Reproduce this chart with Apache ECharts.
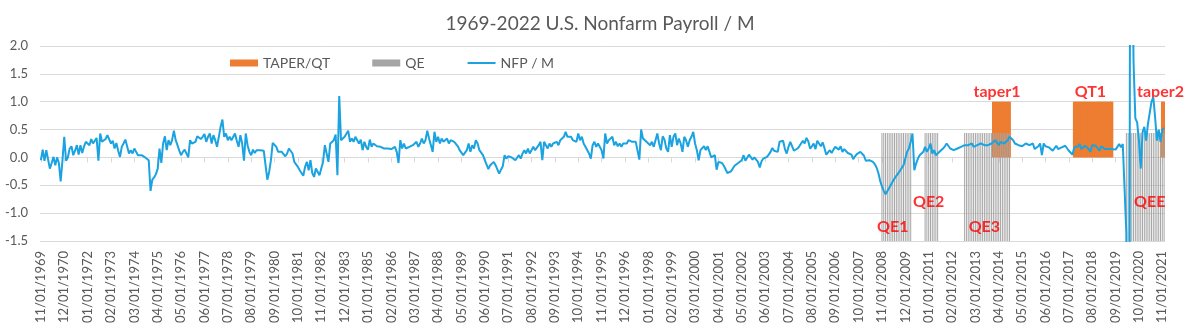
<!DOCTYPE html>
<html>
<head>
<meta charset="utf-8">
<script src="https://cdn.jsdelivr.net/npm/echarts@6/dist/echarts.min.js"></script>
<style>
  html, body { margin: 0; padding: 0; background: #ffffff; }
  #chart { width: 1200px; height: 331px; }
</style>
</head>
<body>
<div id="chart"></div>
<script>
// Monthly change in U.S. nonfarm payrolls, millions of jobs, Nov 1969 .. Dec 2021
const nfp = [
  -0.05, 0.14,                                                              // 1969 Nov-Dec
  -0.06, 0.13, 0.14, -0.2, -0.1, 0.01, -0.14, 0.0, -0.1, -0.43, -0.05, 0.37,  // 1970
  -0.06, 0.0, 0.16, 0.2, 0.04, 0.12, 0.22, 0.05, 0.22, 0.08, 0.2, 0.28,       // 1971
  0.3, 0.22, 0.33, 0.25, 0.28, 0.35, -0.06, 0.43, 0.28, 0.3, 0.33, 0.4,       // 1972
  0.4, 0.25, 0.3, 0.16, 0.26, 0.12, 0.01, 0.19, 0.25, 0.32, 0.3, 0.07,        // 1973
  0.13, 0.07, 0.16, 0.1, 0.04, 0.07, 0.04, 0.02, 0.0, 0.0, -0.05, -0.6,       // 1974
  -0.4, -0.36, -0.3, -0.2, 0.16, -0.1, 0.25, 0.38, 0.13, 0.31, 0.22, 0.31,    // 1975
  0.48, 0.31, 0.22, 0.12, 0.04, 0.1, 0.14, 0.15, 0.0, 0.31, 0.25, 0.28,       // 1976
  0.28, 0.38, 0.4, 0.33, 0.37, 0.42, 0.28, 0.37, 0.43, 0.25, 0.4, 0.31,       // 1977
  0.19, 0.37, 0.55, 0.68, 0.37, 0.43, 0.31, 0.37, 0.31, 0.28, 0.43, 0.3,      // 1978
  0.19, 0.4, 0.25, -0.06, 0.43, 0.22, 0.1, 0.04, 0.14, 0.08, 0.13, 0.1,       // 1979
  0.13, 0.1, 0.12, 0.1, -0.4, -0.26, -0.05, 0.26, 0.25, 0.19, 0.1, 0.07,      // 1980
  0.1, 0.07, 0.02, 0.07, 0.16, 0.19, 0.07, -0.08, -0.08, -0.17, -0.23, -0.28, // 1981
  -0.33, -0.17, -0.08, -0.23, -0.05, -0.28, -0.35, -0.2, -0.17, -0.32, -0.2, -0.08, // 1982
  0.22, 0.07, -0.08, 0.25, 0.28, 0.31, 0.41, -0.32, 1.1, 0.31, 0.34, 0.37,    // 1983
  0.4, 0.48, 0.28, 0.34, 0.28, 0.37, 0.31, 0.25, 0.32, 0.13, 0.28, 0.19,      // 1984
  0.14, 0.32, 0.19, 0.25, 0.22, 0.2, 0.2, 0.19, 0.18, 0.16, 0.15, 0.16,       // 1985
  0.14, 0.15, 0.14, 0.19, 0.1, -0.1, 0.31, 0.16, 0.25, 0.16, 0.16, 0.19,      // 1986
  0.2, 0.22, 0.25, 0.28, 0.19, 0.25, 0.34, 0.25, 0.31, 0.48, 0.34, 0.37,      // 1987
  0.1, 0.46, 0.28, 0.37, 0.25, 0.34, 0.28, 0.31, 0.34, 0.25, 0.31, 0.34,      // 1988
  0.28, 0.25, 0.2, 0.13, 0.1, 0.04, 0.01, 0.13, 0.25, 0.1, 0.22, 0.16,        // 1989
  0.31, 0.25, 0.13, 0.16, 0.04, -0.05, -0.13, -0.21, -0.14, -0.11, -0.08, -0.14, // 1990
  -0.11, -0.29, -0.22, -0.16, 0.04, -0.02, 0.02, 0.04, 0.0, 0.01, -0.05, -0.03,  // 1991
  0.04, -0.02, 0.07, 0.13, 0.07, 0.16, 0.07, 0.13, 0.19, 0.13, 0.13, 0.22,    // 1992
  0.28, -0.05, 0.28, 0.22, 0.16, 0.25, 0.19, 0.25, 0.22, 0.28, 0.22, 0.31,    // 1993
  0.31, 0.37, 0.46, 0.37, 0.34, 0.37, 0.31, 0.34, 0.28, 0.43, 0.31, 0.37,     // 1994
  0.25, 0.19, 0.16, 0.07, -0.02, 0.22, 0.28, 0.19, 0.25, 0.28, 0.13, -0.02,   // 1995
  0.43, 0.25, 0.31, 0.28, 0.37, 0.22, 0.28, 0.2, 0.25, 0.19, 0.25, 0.28,      // 1996
  0.25, 0.31, 0.28, 0.28, 0.31, 0.28, 0.27, -0.04, 0.5, 0.34, 0.31, 0.28,     // 1997
  0.25, 0.22, 0.28, 0.19, 0.31, 0.43, 0.25, 0.13, 0.38, 0.32, 0.16, 0.1,      // 1998
  0.4, 0.19, 0.37, 0.43, 0.22, 0.34, 0.25, 0.1, 0.37, 0.31, 0.19, 0.31,       // 1999
  0.37, 0.46, 0.25, 0.13, -0.05, 0.13, 0.1, 0.2, 0.13, 0.2, 0.19, 0.0,        // 2000
  0.02, 0.04, -0.22, -0.08, -0.1, -0.1, -0.15, -0.17, -0.28, -0.31, -0.25, -0.2, // 2001
  -0.15, -0.12, -0.1, -0.07, -0.05, 0.04, -0.06, -0.07, 0.05, 0.08, -0.04, 0.0,  // 2002
  0.01, -0.08, -0.18, -0.07, -0.02, -0.01, 0.01, 0.05, 0.1, 0.17, 0.12, 0.1,  // 2003
  0.1, 0.28, 0.29, 0.3, 0.15, 0.07, 0.19, 0.28, 0.3, 0.12, 0.14, 0.16,        // 2004
  0.2, 0.18, 0.3, 0.25, 0.35, 0.29, 0.16, 0.2, 0.25, 0.15, 0.3, 0.25,         // 2005
  0.2, 0.27, 0.17, 0.05, 0.08, 0.13, 0.08, 0.14, 0.19, 0.21, 0.14, 0.2,       // 2006
  0.1, 0.15, 0.12, 0.08, 0.05, 0.05, -0.03, 0.02, 0.06, 0.08, 0.1, 0.1,       // 2007
  0.03, -0.06, -0.07, -0.05, -0.06, -0.08, -0.12, -0.18, -0.28, -0.42, -0.52, -0.6, // 2008
  -0.66, -0.69, -0.55, -0.49, -0.43, -0.4, -0.33, -0.35, -0.24, -0.23, -0.14, -0.02, // 2009
  0.1, 0.16, 0.28, 0.43, -0.23, -0.11, -0.02, 0.04, 0.07, 0.1, 0.19, 0.1,     // 2010
  0.16, 0.25, 0.07, 0.13, 0.04, 0.07, 0.1, 0.13, 0.16, 0.2, 0.25, 0.28,       // 2011
  0.16, 0.19, 0.13, 0.16, 0.16, 0.19, 0.19, 0.19, 0.22, 0.19, 0.22, 0.22,     // 2012
  0.25, 0.19, 0.22, 0.22, 0.25, 0.25, 0.22, 0.22, 0.25, 0.22, 0.22, 0.25,     // 2013
  0.28, 0.31, 0.31, 0.22, 0.28, 0.28, 0.25, 0.25, 0.31, 0.37, 0.34, 0.31,     // 2014
  0.25, 0.25, 0.22, 0.22, 0.2, 0.19, 0.25, 0.28, 0.22, 0.22, 0.25, 0.15,      // 2015
  0.16, 0.2, 0.25, 0.04, 0.25, 0.2, 0.22, 0.18, 0.18, 0.12, 0.15, 0.21,       // 2016
  0.15, 0.12, 0.18, 0.18, 0.21, 0.2, 0.12, 0.1, 0.05, 0.18, 0.21, 0.2,        // 2017
  0.24, 0.15, 0.18, 0.21, 0.22, 0.15, 0.1, 0.22, 0.24, 0.21, 0.18, 0.12,      // 2018
  0.2, 0.21, 0.15, 0.18, 0.15, 0.12, 0.15, 0.18, 0.14, 0.12, 0.24, 0.18,      // 2019
  0.24, 0.25, -1.37, -20.5, 2.8, 4.8, 1.7, 0.7, 0.63, 0.3, -0.2, 0.45,        // 2020
  0.55, 0.3, 0.6, 0.8, 1.0, 1.08, 0.72, 0.3, 0.5, 0.28, 0.5, 0.53             // 2021
];

// Month categories, MM/01/YYYY, starting Nov 1969
const startYear = 1969;
const startMonth = 11;
const months = nfp.map(function (_, i) {
  const k = startMonth - 1 + i;
  const m = (k % 12) + 1;
  const y = startYear + Math.floor(k / 12);
  return String(m).padStart(2, '0') + '/01/' + y;
});

// Asset purchase programmes (first and last month)
const qePeriods = [
  ['11/01/2008', '03/01/2010'],   // QE1
  ['11/01/2010', '06/01/2011'],   // QE2
  ['09/01/2012', '10/01/2014'],   // QE3
  ['03/01/2020', '12/01/2021']    // QE Infinity
];
// Taper and balance-sheet runoff periods
const taperPeriods = [
  ['01/01/2014', '10/01/2014'],   // taper1
  ['10/01/2017', '07/01/2019'],   // QT1
  ['11/01/2021', '12/01/2021']    // taper2
];
const qeLevel = 0.44;      // QE band top, on the NFP scale
const taperLevel = 1.0;    // TAPER/QT band height

// Y axis scale
const yMin = -1.5;
const yMax = 2.0;
const yStep = 0.5;

// Period captions: [text, month, value]
const annotations = [
  ['taper1', '03/01/2014', 1.17],
  ['QT1',    '07/01/2018', 1.17],
  ['taper2', '10/01/2021', 1.17],
  ['QE1',    '05/01/2009', -1.25],
  ['QE2',    '01/01/2011', -0.79],
  ['QE3',    '08/01/2013', -1.25],
  ['QEE',    '04/01/2021', -0.79]
];

function periodSeries(periods, value) {
  const out = months.map(function () { return '-'; });
  periods.forEach(function (p) {
    const a = months.indexOf(p[0]);
    const b = months.indexOf(p[1]);
    for (let i = a; i <= b; i++) out[i] = value;
  });
  return out;
}

const FONT = 'Lato, "Open Sans", sans-serif';
const TEXT = '#595959';
const GRID = '#d9d9d9';
const ORANGE = '#ed7d31';
const BLUE = '#1aa3e0';

const chart = echarts.init(document.getElementById('chart'), null, { renderer: 'canvas' });
chart.setOption({
  animation: false,
  backgroundColor: '#ffffff',
  title: {
    text: '1969-2022 U.S. Nonfarm Payroll / M',
    left: 'center',
    top: 9,
    textStyle: { fontFamily: FONT, fontSize: 19, fontWeight: 'normal', color: TEXT }
  },
  legend: {
    left: 225,
    top: 51,
    itemWidth: 28,
    itemHeight: 7,
    itemGap: 42,
    data: [
      { name: 'TAPER/QT', icon: 'rect' },
      { name: 'QE', icon: 'rect' },
      { name: 'NFP / M', itemStyle: { opacity: 0 } }
    ],
    textStyle: { fontFamily: FONT, fontSize: 14, color: TEXT }
  },
  grid: { left: 40, right: 35, top: 46, bottom: 90, outerBoundsMode: 'none' },
  xAxis: [
    {
      type: 'category',
      data: months,
      position: 'bottom',
      axisLine: { show: false, onZero: false },
      axisTick: { show: false },
      axisLabel: {
        interval: 12,
        rotate: 90,
        margin: 10,
        fontFamily: FONT,
        fontSize: 13,
        color: TEXT
      },
      splitLine: { show: false }
    },
    {
      type: 'category',
      data: months,
      position: 'bottom',
      axisLine: { show: true, onZero: true, onZeroAxisIndex: 0, lineStyle: { color: GRID, width: 1 } },
      axisTick: { show: true, interval: 12, alignWithLabel: true, length: 5, lineStyle: { color: GRID } },
      axisLabel: { show: false, interval: 12 },
      splitLine: { show: false }
    },
    {
      type: 'category',
      data: months,
      show: false
    }
  ],
  yAxis: [
    {
      type: 'value',
      min: yMin,
      max: yMax,
      interval: yStep,
      axisLine: { show: false },
      axisTick: { show: false },
      axisLabel: {
        margin: 12,
        fontFamily: FONT,
        fontSize: 13,
        color: TEXT,
        formatter: function (v) { return v.toFixed(1); }
      },
      splitLine: { show: true, lineStyle: { color: GRID, width: 1 } }
    },
    {
      // QE bands rise from the floor of the plot
      type: 'value',
      min: 0,
      max: yMax - yMin,
      show: false,
      splitLine: { show: false }
    }
  ],
  series: [
    {
      name: 'TAPER/QT',
      type: 'bar',
      xAxisIndex: 0,
      yAxisIndex: 0,
      large: false,
      data: periodSeries(taperPeriods, taperLevel),
      // slightly wider than a month so neighbouring months merge into one band
      barWidth: '150%',
      itemStyle: { color: ORANGE },
      silent: true
    },
    {
      name: 'QE',
      type: 'bar',
      xAxisIndex: 2,
      yAxisIndex: 1,
      large: false,
      data: periodSeries(qePeriods, qeLevel - yMin),
      barWidth: '55%',
      itemStyle: { color: '#a5a5a5' },
      silent: true
    },
    {
      name: 'NFP / M',
      type: 'line',
      xAxisIndex: 0,
      yAxisIndex: 0,
      data: nfp,
      symbol: 'none',
      clip: true,
      lineStyle: { color: BLUE, width: 2 },
      itemStyle: { color: BLUE },
      silent: true
    },
    {
      name: 'labels',
      type: 'scatter',
      xAxisIndex: 0,
      yAxisIndex: 0,
      symbol: 'circle',
      symbolSize: 0.1,
      itemStyle: { color: 'rgba(0,0,0,0)' },
      silent: true,
      data: annotations.map(function (a) { return { name: a[0], value: [a[1], a[2]] }; }),
      label: {
        show: true,
        position: 'inside',
        formatter: '{b}',
        fontFamily: FONT,
        fontWeight: 'bold',
        fontSize: 16,
        color: '#ff0000'
      }
    }
  ]
});
</script>
</body>
</html>
